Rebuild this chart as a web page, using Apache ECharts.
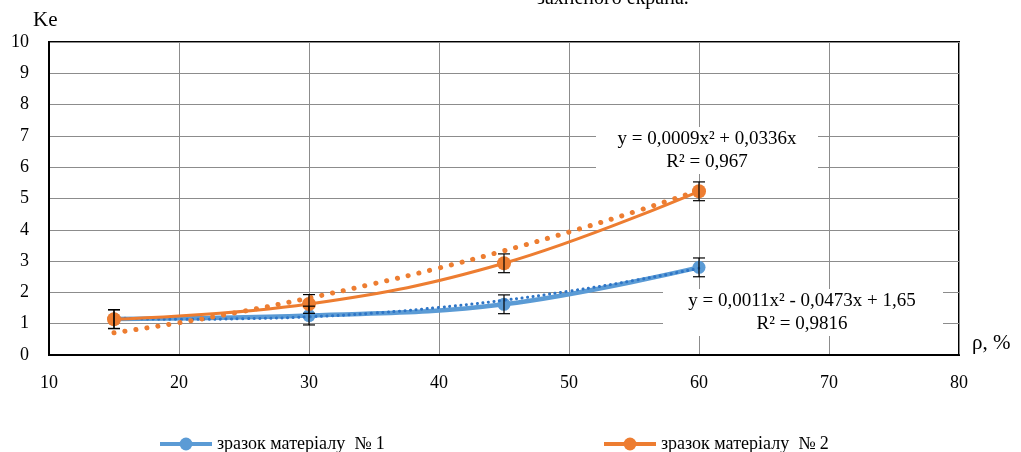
<!DOCTYPE html>
<html>
<head>
<meta charset="utf-8">
<script src="https://cdn.jsdelivr.net/npm/echarts@6/dist/echarts.min.js"></script>
<style>
html, body { margin: 0; padding: 0; background: #fff; }
#chart { width: 1021px; height: 452px; }
</style>
</head>
<body>
<div id="chart"></div>
<script>
// пористість, %
const porosity = [15, 30, 45, 60];
// Ke для зразків
const sample1 = [1.15, 1.26, 1.62, 2.8];
const sample2 = [1.14, 1.63, 2.93, 5.23];
const errors = [0.3, 0.3, 0.3, 0.3];
// лінії тренду
const trendX = [15, 20, 25, 30, 35, 40, 45, 50, 55, 60];
const trend1 = [1.19, 1.14, 1.16, 1.22, 1.34, 1.52, 1.75, 2.04, 2.38, 2.77];
const trend2 = [0.71, 1.03, 1.40, 1.82, 2.28, 2.78, 3.33, 3.93, 4.57, 5.26];
const name1 = 'зразок матеріалу  № 1';
const name2 = 'зразок матеріалу  № 2';
const eq1 = ['y = 0,0011x² - 0,0473x + 1,65', 'R² = 0,9816'];
const eq2 = ['y = 0,0009x² + 0,0336x', 'R² = 0,967'];

const font = 'Liberation Serif';
const blue = '#5b9bd5';
const orange = '#ed7d31';

const zip = (xs, ys) => xs.map((x, i) => [x, ys[i]]);
const errData = (ys) => porosity.map((x, i) => [x, ys[i] - errors[i], ys[i] + errors[i]]);

function errorBar(params, api) {
    const x = api.value(0);
    const lo = api.coord([x, api.value(1)]);
    const hi = api.coord([x, api.value(2)]);
    const half = 6;
    const style = { stroke: '#000', lineWidth: 1.2 };
    return {
        type: 'group',
        children: [
            { type: 'line', shape: { x1: lo[0], y1: lo[1], x2: hi[0], y2: hi[1] }, style },
            { type: 'line', shape: { x1: lo[0] - half, y1: lo[1], x2: lo[0] + half, y2: lo[1] }, style },
            { type: 'line', shape: { x1: hi[0] - half, y1: hi[1], x2: hi[0] + half, y2: hi[1] }, style }
        ]
    };
}

const legendBase = {
    top: 430,
    itemWidth: 52,
    itemHeight: 16,
    lineStyle: { width: 4 },
    textStyle: { fontFamily: font, fontSize: 18, color: '#000' }
};

const myEcharts = echarts.init(document.getElementById('chart'));
const option = {
    animation: false,
    textStyle: { fontFamily: font },
    grid: {
        left: 49,
        right: 62,
        top: 42,
        bottom: 97,
        show: true,
        borderColor: '#000',
        borderWidth: 2
    },
    legend: [
        Object.assign({ data: [name1], left: 153 }, legendBase),
        Object.assign({ data: [name2], left: 597 }, legendBase)
    ],
    xAxis: {
        type: 'value',
        min: 10,
        max: 80,
        interval: 10,
        axisLine: { show: true, lineStyle: { color: '#000', width: 2 } },
        axisTick: { show: false },
        axisLabel: { color: '#000', fontSize: 18, margin: 19, fontFamily: font },
        splitLine: { show: true, lineStyle: { color: '#8c8c8c', width: 1 } }
    },
    yAxis: {
        type: 'value',
        min: 0,
        max: 10,
        interval: 1,
        axisLine: { show: true, lineStyle: { color: '#000', width: 2 } },
        axisTick: { show: false },
        axisLabel: { color: '#000', fontSize: 18, margin: 20, fontFamily: font },
        splitLine: { show: true, lineStyle: { color: '#8c8c8c', width: 1 } }
    },
    graphic: [
        {
            type: 'text', left: 537, top: -11,
            style: { text: 'захненого екрана.', font: '20px "Liberation Serif"', fill: '#000' }
        },
        {
            type: 'text', left: 33, top: 10,
            style: { text: 'Ke', font: '21px "Liberation Serif"', fill: '#000' }
        },
        {
            type: 'text', left: 972, top: 333,
            style: { text: 'ρ, %', font: '21px "Liberation Serif"', fill: '#000' }
        },
        {
            type: 'rect', z: 50,
            shape: { x: 596, y: 127, width: 222, height: 47 },
            style: { fill: '#fff' }
        },
        {
            type: 'text', z: 51, x: 707, y: 128,
            style: {
                text: eq2.join('\n'), font: '19px "Liberation Serif"', fill: '#000',
                align: 'center', lineHeight: 23
            }
        },
        {
            type: 'rect', z: 50,
            shape: { x: 663, y: 289, width: 280, height: 47 },
            style: { fill: '#fff' }
        },
        {
            type: 'text', z: 51, x: 802, y: 290,
            style: {
                text: eq1.join('\n'), font: '19px "Liberation Serif"', fill: '#000',
                align: 'center', lineHeight: 23
            }
        }
    ],
    series: [
        {
            name: name1,
            type: 'line',
            data: zip(porosity, sample1),
            smooth: 0.4,
            symbol: 'circle',
            symbolSize: 13,
            z: 3,
            lineStyle: { color: blue, width: 4.5 },
            itemStyle: { color: blue }
        },
        {
            name: 'trend1',
            type: 'line',
            data: zip(trendX, trend1),
            smooth: true,
            showSymbol: false,
            z: 4,
            lineStyle: { color: '#2e75c6', width: 3, type: [0.1, 5.5], cap: 'round' }
        },
        {
            name: name2,
            type: 'line',
            data: zip(porosity, sample2),
            smooth: 0.4,
            symbol: 'circle',
            symbolSize: 14,
            z: 5,
            lineStyle: { color: orange, width: 3 },
            itemStyle: { color: orange }
        },
        {
            name: 'trend2',
            type: 'line',
            data: zip(trendX, trend2),
            smooth: true,
            showSymbol: false,
            z: 4,
            lineStyle: { color: orange, width: 5, type: [0.1, 11], cap: 'round' }
        },
        {
            type: 'custom',
            renderItem: errorBar,
            data: errData(sample1),
            z: 6
        },
        {
            type: 'custom',
            renderItem: errorBar,
            data: errData(sample2),
            z: 6
        }
    ]
};
myEcharts.setOption(option);
</script>
</body>
</html>
